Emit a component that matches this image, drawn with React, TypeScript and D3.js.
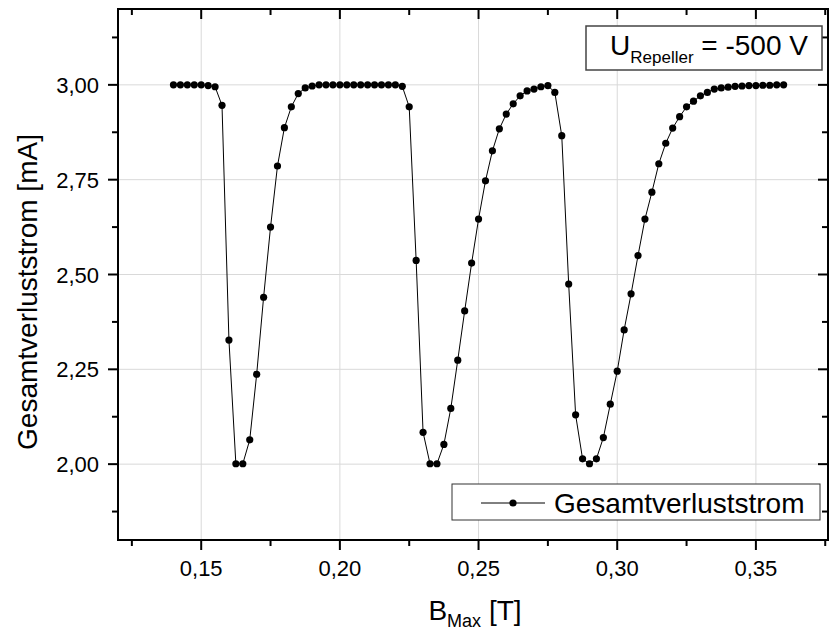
import React from "react";
import * as d3 from "d3";

// Magnetic field B_Max [T]
const bValues: number[] = [
  0.14, 0.1425, 0.145, 0.1475, 0.15, 0.1525, 0.155, 0.1575, 0.16, 0.1625,
  0.165, 0.1675, 0.17, 0.1725, 0.175, 0.1775, 0.18, 0.1825, 0.185, 0.1875,
  0.19, 0.1925, 0.195, 0.1975, 0.2, 0.2025, 0.205, 0.2075, 0.21, 0.2125,
  0.215, 0.2175, 0.22, 0.2225, 0.225, 0.2275, 0.23, 0.2325, 0.235, 0.2375,
  0.24, 0.2425, 0.245, 0.2475, 0.25, 0.2525, 0.255, 0.2575, 0.26, 0.2625,
  0.265, 0.2675, 0.27, 0.2725, 0.275, 0.2775, 0.28, 0.2825, 0.285, 0.2875,
  0.29, 0.2925, 0.295, 0.2975, 0.3, 0.3025, 0.305, 0.3075, 0.31, 0.3125,
  0.315, 0.3175, 0.32, 0.3225, 0.325, 0.3275, 0.33, 0.3325, 0.335, 0.3375,
  0.34, 0.3425, 0.345, 0.3475, 0.35, 0.3525, 0.355, 0.3575, 0.36,
];

// Gesamtverluststrom [mA]
const currentValues: number[] = [
  3.0, 3.0, 3.0, 3.0, 3.0, 2.998, 2.995, 2.946, 2.327, 2.001,
  2.001, 2.064, 2.237, 2.44, 2.625, 2.786, 2.887, 2.942, 2.977, 2.992,
  2.997, 3.0, 3.0, 3.0, 3.0, 3.0, 3.0, 3.0, 3.0, 3.0,
  3.0, 3.0, 3.0, 2.996, 2.942, 2.537, 2.084, 2.001, 2.001, 2.052,
  2.147, 2.274, 2.404, 2.53, 2.646, 2.747, 2.826, 2.884, 2.923, 2.95,
  2.971, 2.984, 2.989, 2.995, 2.998, 2.98, 2.866, 2.475, 2.13, 2.014,
  2.001, 2.014, 2.07, 2.158, 2.245, 2.354, 2.449, 2.55, 2.646, 2.717,
  2.792, 2.846, 2.886, 2.916, 2.942, 2.957, 2.971, 2.98, 2.989, 2.992,
  2.994, 2.996, 2.997, 2.998, 2.998, 2.999, 2.999, 3.0, 3.0,
];

const xMajorTicks: number[] = [0.15, 0.2, 0.25, 0.3, 0.35];
const xTickLabels: string[] = ["0,15", "0,20", "0,25", "0,30", "0,35"];
const xMinorTicks: number[] = [0.125, 0.175, 0.225, 0.275, 0.325, 0.375];
const yMajorTicks: number[] = [2.0, 2.25, 2.5, 2.75, 3.0];
const yTickLabels: string[] = ["2,00", "2,25", "2,50", "2,75", "3,00"];
const yMinorTicks: number[] = [1.875, 2.125, 2.375, 2.625, 2.875, 3.125];

const seriesName = "Gesamtverluststrom";
const yTitle = "Gesamtverluststrom [mA]";

const W = 830;
const H = 633;
const left = 118;
const right = 828;
const top = 9;
const bottom = 540;
const FONT = "Arial, 'Liberation Sans', sans-serif";

export default function App() {
  const x = d3.scaleLinear().domain([0.12, 0.376]).range([left, right]);
  const y = d3.scaleLinear().domain([1.8, 3.2]).range([bottom, top]);

  const data = bValues.map((b, i) => ({ b, v: currentValues[i] }));
  const line = d3
    .line<{ b: number; v: number }>()
    .x((d) => x(d.b))
    .y((d) => y(d.v));

  const major = 10;
  const minor = 6;
  const gridColor = "#d9d9d9";

  return (
    <svg
      width={W}
      height={H}
      style={{ position: "fixed", left: 0, top: 0, background: "#fff" }}
      fontFamily={FONT}
    >
      <rect x={0} y={0} width={W} height={H} fill="#fff" />
      {/* grid */}
      {xMajorTicks.map((t) => (
        <line key={"gx" + t} x1={x(t)} x2={x(t)} y1={top} y2={bottom} stroke={gridColor} strokeWidth={1} />
      ))}
      {yMajorTicks.map((t) => (
        <line key={"gy" + t} x1={left} x2={right} y1={y(t)} y2={y(t)} stroke={gridColor} strokeWidth={1} />
      ))}

      {/* data */}
      <path d={line(data) || ""} fill="none" stroke="#000" strokeWidth={1} />
      {data.map((d, i) => (
        <circle key={"p" + i} cx={x(d.b)} cy={y(d.v)} r={3.6} fill="#000" />
      ))}

      {/* axes box */}
      <rect x={left} y={top} width={right - left} height={bottom - top} fill="none" stroke="#000" strokeWidth={2} />

      {/* bottom ticks (outward) and top ticks (inward) */}
      {xMajorTicks.map((t) => (
        <g key={"xt" + t}>
          <line x1={x(t)} x2={x(t)} y1={bottom} y2={bottom + major} stroke="#000" strokeWidth={2} />
          <line x1={x(t)} x2={x(t)} y1={top} y2={top + major} stroke="#000" strokeWidth={2} />
        </g>
      ))}
      {xMinorTicks.map((t) => (
        <g key={"xm" + t}>
          <line x1={x(t)} x2={x(t)} y1={bottom} y2={bottom + minor} stroke="#000" strokeWidth={2} />
          <line x1={x(t)} x2={x(t)} y1={top} y2={top + minor} stroke="#000" strokeWidth={2} />
        </g>
      ))}
      {/* left ticks (outward) and right ticks (inward) */}
      {yMajorTicks.map((t) => (
        <g key={"yt" + t}>
          <line x1={left - major} x2={left} y1={y(t)} y2={y(t)} stroke="#000" strokeWidth={2} />
          <line x1={right - major} x2={right} y1={y(t)} y2={y(t)} stroke="#000" strokeWidth={2} />
        </g>
      ))}
      {yMinorTicks.map((t) => (
        <g key={"ym" + t}>
          <line x1={left - minor} x2={left} y1={y(t)} y2={y(t)} stroke="#000" strokeWidth={2} />
          <line x1={right - minor} x2={right} y1={y(t)} y2={y(t)} stroke="#000" strokeWidth={2} />
        </g>
      ))}

      {/* tick labels */}
      {xMajorTicks.map((t, i) => (
        <text key={"xl" + t} x={x(t)} y={576} textAnchor="middle" fontSize={22} fill="#000">
          {xTickLabels[i]}
        </text>
      ))}
      {yMajorTicks.map((t, i) => (
        <text key={"yl" + t} x={99} y={y(t) + 8} textAnchor="end" fontSize={22} fill="#000">
          {yTickLabels[i]}
        </text>
      ))}

      {/* axis titles */}
      <text x={(left + right) / 2 + 2} y={620} textAnchor="middle" fontSize={28} fill="#000">
        B
        <tspan fontSize={18} dy={7}>Max</tspan>
        <tspan dy={-7}> [T]</tspan>
      </text>
      <text
        transform={`translate(37, 292) rotate(-90)`}
        textAnchor="middle"
        fontSize={28}
        fill="#000"
      >
        {yTitle}
      </text>

      {/* annotation box */}
      <rect x={586} y={26} width={236} height={44} fill="#fff" stroke="#444" strokeWidth={1.5} />
      <text x={610} y={55} fontSize={28} fill="#000">
        U
        <tspan fontSize={17} dy={8}>Repeller</tspan>
        <tspan dy={-8}> = -500 V</tspan>
      </text>

      {/* legend */}
      <rect x={452} y={484} width={368} height={36} fill="#fff" stroke="#333" strokeWidth={1} />
      <line x1={481} x2={545} y1={503} y2={503} stroke="#000" strokeWidth={1} />
      <circle cx={513} cy={503} r={3.6} fill="#000" />
      <text x={554} y={513} fontSize={28} fill="#000">
        {seriesName}
      </text>
    </svg>
  );
}
